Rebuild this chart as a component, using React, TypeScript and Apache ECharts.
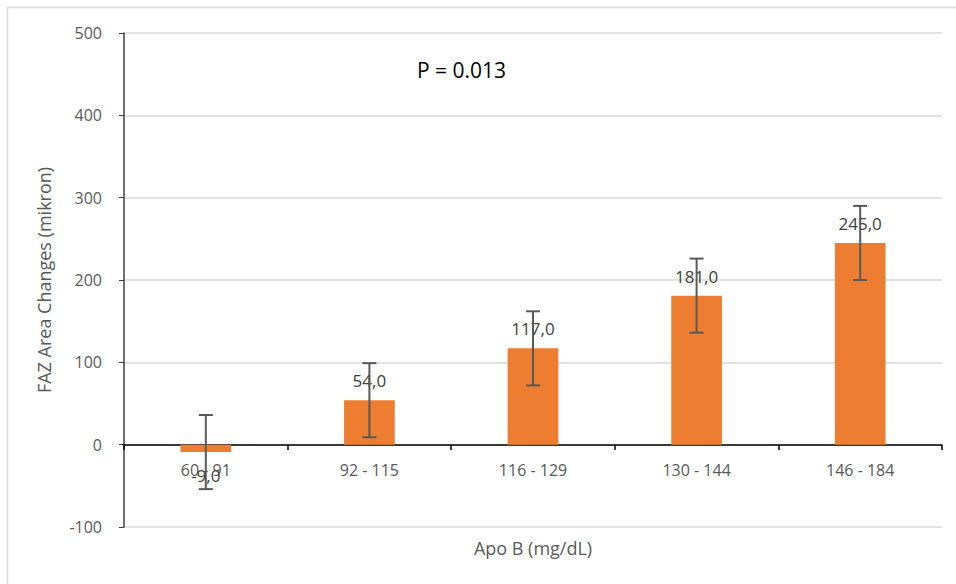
import React, { useEffect, useRef } from "react";
import * as echarts from "echarts";

const categories = ["60 - 91", "92 - 115", "116 - 129", "130 - 144", "146 - 184"];
const values = [-9, 54, 117, 181, 245];
const errLow = [-54, 9, 72, 136, 200];
const errHigh = [36, 99, 162, 226, 290];
const yTicks = { min: -100, max: 500, interval: 100 };

const FONT = "'Open Sans', 'Noto Sans', sans-serif";

export default function App() {
  const ref = useRef<HTMLDivElement>(null);
  useEffect(() => {
    if (!ref.current) return;
    const chart = echarts.init(ref.current, undefined, { renderer: "svg" });
    const errData = categories.map((_, i) => [i, errLow[i], errHigh[i]]);
    chart.setOption({
      animation: false,
      backgroundColor: "#ffffff",
      textStyle: { fontFamily: FONT },
      grid: { left: 124, right: 14, top: 33, bottom: 57, outerBoundsMode: "none", containLabel: false },
      graphic: [
        {
          type: "rect",
          shape: { x: 7.5, y: 7.5, width: 1000, height: 1000 },
          style: { fill: "none", stroke: "#d9d9d9", lineWidth: 1.5 },
          silent: true,
          z: -10,
        },
        {
          type: "text",
          left: 417,
          top: 59,
          style: { text: "P = 0.013", fontSize: 21, fill: "#000000", fontFamily: FONT },
        },
      ],
      xAxis: {
        type: "category",
        data: categories,
        offset: -82,
        name: "Apo B (mg/dL)",
        nameLocation: "middle",
        nameGap: 94,
        nameTextStyle: { fontSize: 18, color: "#595959", fontFamily: FONT },
        axisLine: { onZero: false, lineStyle: { color: "#000000", width: 1.5 } },
        axisTick: { show: true, interval: 0, alignWithLabel: false, length: 5, lineStyle: { color: "#000000", width: 1.5 } },
        axisLabel: { color: "#595959", fontSize: 16, margin: 17, fontFamily: FONT },
        splitLine: { show: false },
      },
      yAxis: {
        type: "value",
        min: yTicks.min,
        max: yTicks.max,
        interval: yTicks.interval,
        name: "FAZ Area Changes (mikron)",
        nameLocation: "middle",
        nameRotate: 90,
        nameGap: 71,
        nameTextStyle: { fontSize: 18, color: "#595959", fontFamily: FONT },
        axisLine: { show: true, lineStyle: { color: "#404040", width: 1.5 } },
        axisTick: { show: true, length: 5, lineStyle: { color: "#404040" } },
        axisLabel: { color: "#595959", fontSize: 16, margin: 22, fontFamily: FONT },
        splitLine: { show: true, lineStyle: { color: "#d9d9d9", width: 1.5 } },
      },
      series: [
        {
          type: "bar",
          barWidth: "31%",
          itemStyle: { color: "#ED7D31" },
          data: values.map((v) => ({
            value: v,
            label: {
              show: true,
              position: v < 0 ? "bottom" : "top",
              distance: v < 0 ? 15 : 11,
            },
          })),
          label: {
            show: true,
            color: "#404040",
            fontSize: 17,
            fontFamily: FONT,
            formatter: (p: any) => Number(p.value).toFixed(1).replace(".", ","),
          },
          z: 2,
        },
        {
          type: "custom",
          data: errData,
          z: 3,
          renderItem: (params: any, api: any) => {
            const x = api.value(0);
            const lo = api.coord([x, api.value(1)]);
            const hi = api.coord([x, api.value(2)]);
            const hw = 7;
            const style = { stroke: "#595959", lineWidth: 2 };
            return {
              type: "group",
              children: [
                { type: "line", shape: { x1: hi[0], y1: hi[1], x2: lo[0], y2: lo[1] }, style },
                { type: "line", shape: { x1: hi[0] - hw, y1: hi[1], x2: hi[0] + hw, y2: hi[1] }, style },
                { type: "line", shape: { x1: lo[0] - hw, y1: lo[1], x2: lo[0] + hw, y2: lo[1] }, style },
              ],
            };
          },
        },
      ],
    });
    return () => chart.dispose();
  }, []);
  return <div ref={ref} style={{ width: 956, height: 584, position: "absolute", left: 0, top: 0 }} />;
}
